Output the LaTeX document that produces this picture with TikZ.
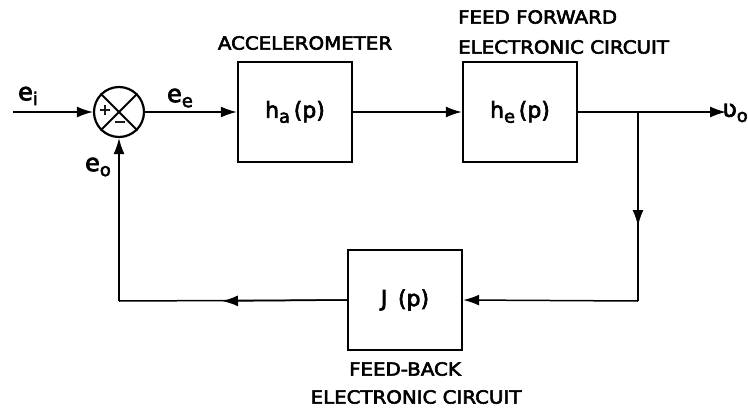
\documentclass[tikz,border=0pt]{standalone}
\usepackage{fontspec}
\setmainfont{DejaVu Sans}[FakeBold=3]
\usetikzlibrary{arrows.meta}
\newcommand{\sbs}[1]{\raisebox{-5pt}{\fontsize{18}{18}\selectfont #1}}
\newcommand{\wid}[1]{\scalebox{1.1}[1]{#1}}
\begin{document}
\begin{tikzpicture}[x=1pt,y=-1pt,
  blk/.style={draw, line width=2.4pt, minimum width=114pt, minimum height=100pt, inner sep=0pt, font=\fontsize{22}{24}\selectfont},
  lbl/.style={font=\fontsize{18}{31}\selectfont, inner sep=0pt},
  sigl/.style={font=\fontsize{24}{24}\selectfont, inner sep=0pt},
  wire/.style={line width=1.5pt},
  sig/.style={wire, -{Latex[length=16pt,width=11pt]}}
]
\useasboundingbox (0,0) rectangle (748,410);
% blocks
\node[blk] (ha) at (295,112) {h\sbs{a}\,(p)};
\node[blk] (he) at (520,112) {h\sbs{e}\,(p)};
\node[blk] (J) at (405,300) {J\, (p)};
\node[circle, draw, line width=2.2pt, minimum size=50pt, inner sep=0pt] (sum) at (119,112) {};
\draw[line width=2pt] (sum.north west) -- (sum.south east);
\draw[line width=2pt] (sum.north east) -- (sum.south west);
\node[font=\fontsize{15}{15}\selectfont, inner sep=0pt] (plus) at (105,110) {+};
\node[font=\fontsize{15}{15}\selectfont, inner sep=0pt] (minus) at (120,124) {−};
% coordinates
\coordinate (in) at (13,112);
\coordinate (out) at (726,112);
\coordinate (br) at (638,112);
\coordinate (rv) at (638,226);
\coordinate (rc) at (638,301);
\coordinate (lh) at (222,301);
\coordinate (lc) at (119,301);
% connectors
\draw[sig] (in) -- (sum.west);
\draw[sig] (sum.east) -- (ha.west);
\draw[sig] (ha.east) -- (he.west);
\draw[sig] (he.east) -- (out);
\draw[wire] (br) -- (rc);
\draw[sig] (br) -- (rv);
\draw[sig] (rc) -- (J.east);
\draw[wire] (J.west) -- (lc);
\draw[sig] (J.west) -- (lh);
\draw[sig] (lc) -- (sum.south);
% signal labels
\node[sigl] (ei) at (28,96) {e\sbs{i}};
\node[sigl] (ee) at (180,98) {e\sbs{e}};
\node[sigl] (eo) at (98,167) {e\sbs{o}};
\node[sigl, anchor=east] (vo) at (748,113) {ʋ\sbs{o}};
% block labels
\node[lbl] (acc) at (305,43) {\wid{ACCELEROMETER}};
\node[lbl, anchor=west] (ff1) at (458,17) {\wid{FEED FORWARD}};
\node[lbl, anchor=west] (ff2) at (458,47) {\wid{ELECTRONIC CIRCUIT}};
\node[lbl] (fb1) at (405,369) {\wid{FEED-BACK}};
\node[lbl] (fb2) at (416,397) {\wid{ELECTRONIC CIRCUIT}};
\end{tikzpicture}
\end{document}
